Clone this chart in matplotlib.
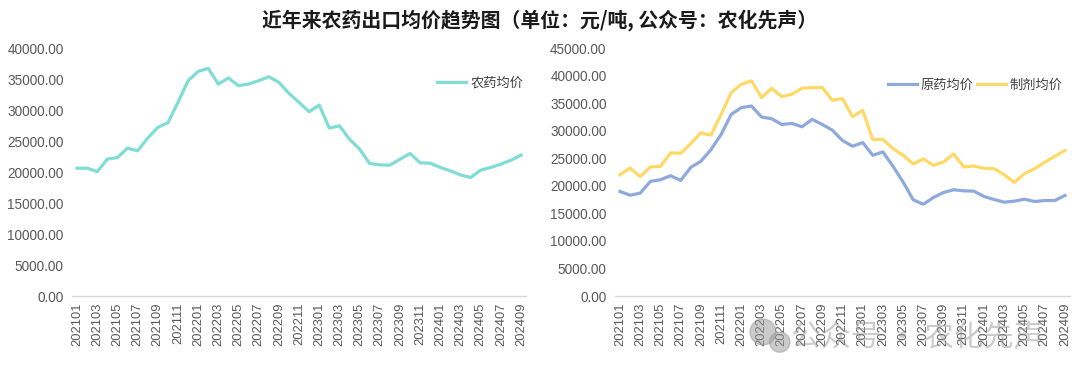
import matplotlib
matplotlib.use("Agg")
import matplotlib.pyplot as plt
from matplotlib.patches import Ellipse

plt.rcParams['font.family'] = ['Liberation Sans', 'Noto Sans CJK SC', 'DejaVu Sans']

months = [f"{y}{m:02d}" for y in (2021, 2022, 2023, 2024) for m in range(1, 13)][:45]

pesticide_avg = [20620, 20620, 20080, 22070, 22340, 23850, 23420, 25470, 27190, 27940,
                 31230, 34730, 36230, 36720, 34190, 35160, 33920, 34190, 34730, 35370,
                 34460, 32680, 31230, 29720, 30800, 27080, 27460, 25300, 23690, 21370,
                 21160, 21100, 22070, 22990, 21480, 21430, 20730, 20190, 19540, 19110,
                 20300, 20730, 21270, 21910, 22720]

technical_avg = [18970, 18300, 18670, 20800, 21100, 21830, 20980, 23350, 24450, 26570,
                 29310, 32960, 34180, 34480, 32470, 32170, 31130, 31320, 30710, 32050,
                 31130, 30100, 28220, 27180, 27850, 25540, 26150, 23530, 20680, 17450,
                 16660, 17880, 18790, 19280, 19090, 19030, 18060, 17510, 17030, 17210,
                 17570, 17150, 17330, 17330, 18240]

formulation_avg = [22010, 23230, 21650, 23410, 23530, 25970, 25900, 27670, 29610, 29190,
                   32960, 36910, 38430, 39040, 36000, 37700, 36180, 36610, 37700, 37820,
                   37820, 35510, 35820, 32530, 33690, 28400, 28400, 26760, 25540, 23960,
                   24870, 23720, 24320, 25780, 23410, 23590, 23170, 23110, 22010, 20610,
                   22200, 23110, 24260, 25360, 26390]

title = "近年来农药出口均价趋势图（单位：元/吨, 公众号：农化先声）"

fig = plt.figure(figsize=(10.8, 3.81), dpi=100)
ax1 = fig.add_axes([0.0667, 0.223, 0.4204, 0.651])
ax2 = fig.add_axes([0.5694, 0.223, 0.4213, 0.651])

tick_color = "#595959"
x = list(range(len(months)))

def style(ax, ymax, step):
    ax.set_xlim(-0.5, len(months) - 0.5)
    ax.set_ylim(0, ymax)
    ax.set_yticks(list(range(0, ymax + 1, step)))
    ax.set_yticklabels([f"{v:.2f}" for v in range(0, ymax + 1, step)])
    ax.set_xticks(x[::2])
    ax.set_xticklabels(months[::2], rotation=90)
    for s in ("top", "right", "left"):
        ax.spines[s].set_visible(False)
    ax.spines["bottom"].set_color("#D9D9D9")
    ax.spines["bottom"].set_linewidth(1.0)
    ax.tick_params(axis="y", length=0, labelsize=9.8, colors=tick_color, pad=6)
    ax.tick_params(axis="x", length=0, labelsize=9.3, colors=tick_color, pad=5)

ax1.plot(x, pesticide_avg, color="#7FDDD4", linewidth=2.3, label="农药均价")
style(ax1, 40000, 5000)
ax1.legend(loc="upper right", bbox_to_anchor=(1.02, 0.93), frameon=False, fontsize=9.5,
           handlelength=2.2, handletextpad=0.3, labelcolor="#404040")

ax2.plot(x, technical_avg, color="#8EA9DB", linewidth=2.3, label="原药均价")
ax2.plot(x, formulation_avg, color="#FFD966", linewidth=2.3, label="制剂均价")
style(ax2, 45000, 5000)
ax2.legend(loc="upper right", bbox_to_anchor=(1.01, 0.92), frameon=False, fontsize=9.5,
           ncol=2, handlelength=2.2, handletextpad=0.25, columnspacing=0.3,
           labelcolor="#404040")

fig.text(0.5, 0.947, title, ha="center", va="center", fontsize=14.3, fontweight="bold",
         color="#1a1a1a", family=['Noto Sans CJK SC', 'DejaVu Sans'])

# watermark
fig.patches.append(Ellipse((0.7065, 0.1286), 0.024, 0.068, transform=fig.transFigure,
                           color="#999999", alpha=0.5, zorder=5))
fig.patches.append(Ellipse((0.722, 0.102), 0.019, 0.053, transform=fig.transFigure,
                           color="#999999", alpha=0.5, zorder=5))
fig.text(0.849, 0.115, "公众号 · 农化先声", ha="center", va="center", fontsize=21.5,
         color="#999999", alpha=0.5, family=['Noto Sans CJK SC', 'DejaVu Sans'])

fig.savefig("out.png", dpi=100, facecolor="white")
